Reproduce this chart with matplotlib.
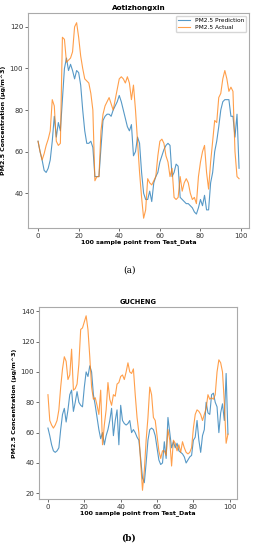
import numpy as np
import matplotlib
matplotlib.use('Agg')
import matplotlib.pyplot as plt

# Aotizhongxin station, 100 test samples
aoti_pred = [65, 60, 56, 51, 50, 52, 56, 65, 77, 67,
             74, 70, 85, 100, 105, 99, 102, 99, 95, 99,
             98, 92, 80, 70, 64, 64, 65, 62, 48, 48,
             48, 62, 75, 77, 78, 78, 77, 80, 82, 84,
             87, 84, 80, 76, 72, 70, 73, 58, 60, 67,
             64, 50, 40, 37, 37, 41, 36, 45, 48, 50,
             55, 58, 61, 63, 64, 63, 48, 50, 54, 53,
             38, 37, 36, 35, 35, 34, 33, 31, 30, 33,
             37, 34, 39, 32, 32, 45, 50, 60, 65, 72,
             80, 84, 85, 85, 85, 77, 77, 67, 78, 52]
aoti_actual = [65, 60, 56, 59, 63, 66, 70, 85, 82, 65,
               63, 64, 115, 114, 103, 104, 105, 108, 120, 122,
               115, 106, 100, 95, 94, 93, 88, 80, 46, 48,
               48, 70, 78, 82, 84, 86, 83, 80, 85, 90,
               95, 96, 95, 93, 96, 93, 85, 92, 80, 65,
               50, 38, 28, 32, 47, 45, 44, 46, 48, 58,
               65, 66, 64, 58, 55, 48, 52, 38, 37, 38,
               48, 41, 45, 47, 45, 40, 37, 38, 35, 48,
               55, 60, 63, 50, 42, 55, 65, 75, 74, 86,
               88, 95, 99, 95, 89, 91, 89, 60, 48, 47]

# Gucheng station
gu_pred = [63, 58, 52, 48, 47, 48, 50, 62, 72, 76,
           67, 75, 85, 88, 74, 80, 87, 80, 78, 77,
           90, 100, 97, 104, 100, 85, 78, 70, 62, 56,
           60, 52, 58, 62, 68, 76, 58, 68, 75, 52,
           78, 68, 66, 65, 66, 68, 60, 62, 60, 57,
           55, 43, 30, 27, 40, 55, 62, 63, 62, 58,
           50, 42, 39, 40, 54, 43, 70, 60, 50, 54,
           50, 53, 48, 47, 46, 44, 40, 42, 44, 45,
           55, 57, 68, 55, 47, 58, 62, 80, 73, 72,
           85, 86, 80, 77, 60, 73, 79, 68, 99, 59]
gu_actual = [85, 68, 65, 63, 65, 68, 75, 90, 102, 110,
             107, 95, 98, 115, 88, 89, 92, 105, 128, 129,
             133, 137, 128, 110, 90, 82, 83, 78, 72, 88,
             52, 65, 75, 93, 82, 78, 85, 84, 92, 93,
             97, 98, 95, 100, 106, 100, 99, 102, 85, 70,
             60, 40, 22, 35, 55, 70, 90, 85, 70, 68,
             58, 48, 43, 48, 48, 45, 62, 55, 38, 55,
             53, 48, 52, 47, 54, 50, 47, 46, 47, 50,
             63, 72, 75, 74, 72, 68, 72, 76, 85, 82,
             83, 82, 85, 100, 108, 106, 100, 80, 53, 59]

x = np.arange(100)

fig = plt.figure(figsize=(2.58, 5.5), dpi=100)


def style(ax, title, tsize):
    ax.set_title(title, fontsize=tsize, fontweight='bold', pad=2)
    ax.set_xlabel('100 sample point from Test_Data', fontsize=4.5,
                  fontweight='bold', labelpad=0.5)
    ax.set_ylabel('PM2.5 Concentration (μg/m^3)', fontsize=4.5,
                  fontweight='bold', labelpad=2.5)
    ax.tick_params(labelsize=5, length=2, width=0.5, pad=1.5,
                   colors='#333333')
    for s in ax.spines.values():
        s.set_color('#aaaaaa')
        s.set_linewidth(0.8)


ax1 = fig.add_axes([0.1085, 0.5855, 0.857, 0.391])
ax1.plot(x, aoti_pred, color='tab:blue', lw=0.8, alpha=0.75, label='PM2.5 Prediction')
ax1.plot(x, aoti_actual, color='tab:orange', lw=0.8, alpha=0.75, label='PM2.5 Actual')
ax1.set_yticks([40, 60, 80, 100, 120])
ax1.set_xticks([0, 20, 40, 60, 80, 100])
style(ax1, 'Aotizhongxin', 5.2)
ax1.legend(loc='upper right', fontsize=4.2, frameon=True, handlelength=2,
           borderpad=0.4, labelspacing=0.3)

ax2 = fig.add_axes([0.151, 0.0927, 0.7674, 0.349])
ax2.plot(x, gu_pred, color='tab:blue', lw=0.8, alpha=0.75)
ax2.plot(x, gu_actual, color='tab:orange', lw=0.8, alpha=0.75)
ax2.set_yticks([20, 40, 60, 80, 100, 120, 140])
ax2.set_xticks([0, 20, 40, 60, 80, 100])
style(ax2, 'GUCHENG', 4.8)

fig.text(0.5, 1 - 270 / 550, '(a)', ha='center', va='center',
         fontsize=6.5, family='DejaVu Serif')
fig.text(0.5, 1 - 538 / 550, '(b)', ha='center', va='center',
         fontsize=6.5, family='DejaVu Serif', fontweight='bold')

fig.savefig('out.png', dpi=100)
